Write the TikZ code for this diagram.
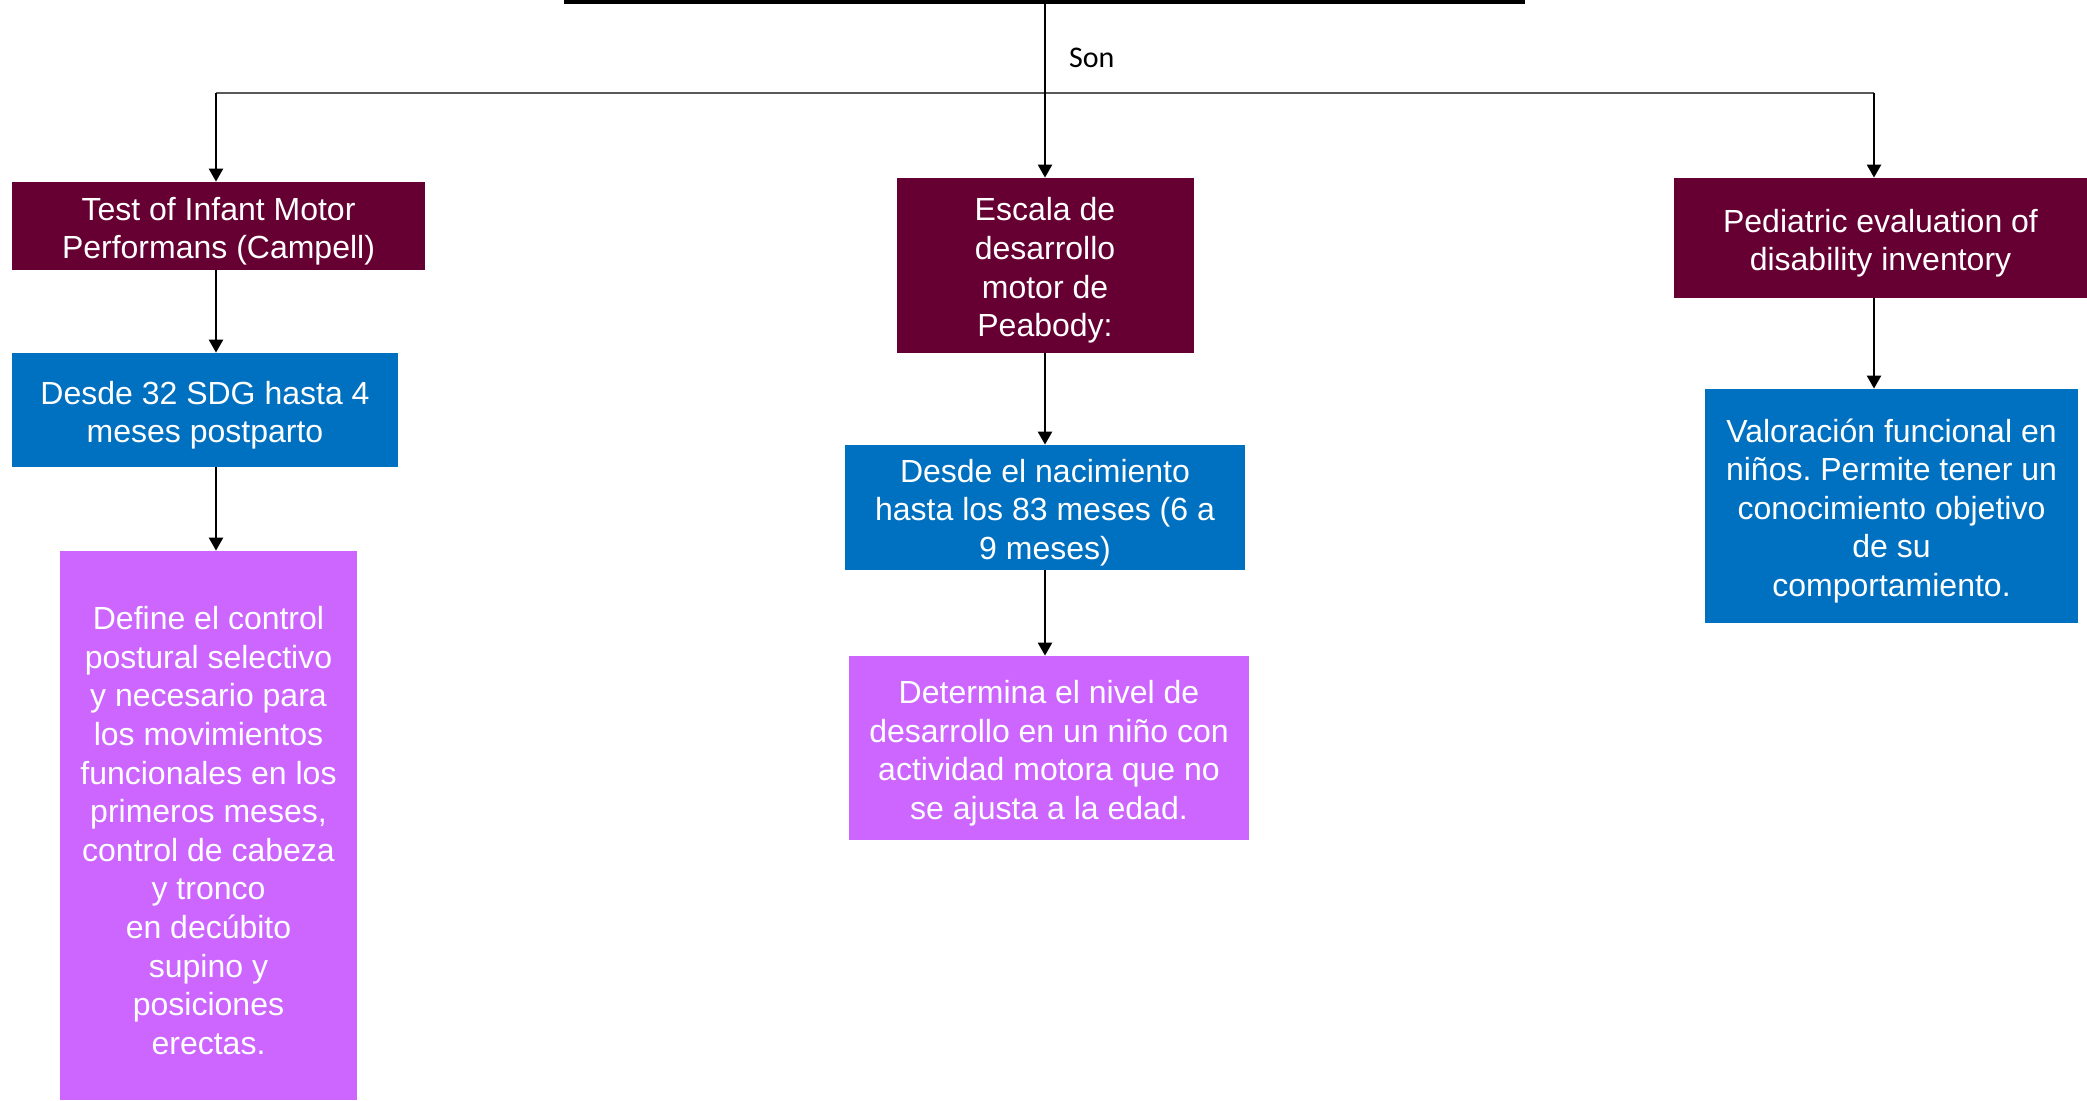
\documentclass[tikz,border=0pt]{standalone}
\usepackage{fontspec}
\setmainfont{Liberation Sans}
\newfontfamily\sonfont{Carlito}
\usetikzlibrary{arrows.meta,positioning,calc}
\definecolor{wine}{HTML}{660033}
\definecolor{azul}{HTML}{0070C0}
\definecolor{lila}{HTML}{CC66FF}
\definecolor{linegray}{HTML}{595959}
\frenchspacing

\begin{document}
\begin{tikzpicture}[x=0.5pt, y=-0.5pt, >={Triangle[width=7pt,length=6.5pt]},
  box/.style={inner sep=0pt, align=flush center, text=white, font=\fontsize{16}{19.3}\selectfont,
    execute at begin node={\rule{0pt}{16.7pt}}},
  size/.style 2 args={minimum width=#1, text width=#1, minimum height=#2},
  title/.style={box, fill=wine},
  info/.style={box, fill=azul},
  note/.style={box, fill=lila},
  link/.style={->, line width=1.2pt}]
  \useasboundingbox (0,0) rectangle (2087,1100);
  % bar of the box above (cut off)
  \coordinate (barL) at (564,0); \coordinate (barR) at (1525,0);
  \draw[line width=4pt] (barL) -- (barR);
  % branch points
  \coordinate (cL) at (216,93); \coordinate (cM) at (1045,93); \coordinate (cR) at (1874,93);
  \node[anchor=west, font=\sonfont\fontsize{15}{18}\selectfont] (son) at (1062,58) {Son};
  % left column
  \node[title, size={206.5pt}{44pt}] (campbell) at (218.5,226)
    {Test of Infant Motor\\Performans (Campell)};
  \node[info, size={193pt}{57pt}] (campbellAge) at (205,410)
    {Desde 32 SDG hasta 4\\meses postparto};
  \node[note, size={148.5pt}{274.5pt}] (campbellUse) at (208.5,825.5)
    {Define el control\\postural selectivo\\y necesario para\\los movimientos\\funcionales en los\\primeros meses,\\control de cabeza\\y tronco\\en decúbito\\supino y\\posiciones\\erectas.};
  % middle column
  \node[title, size={148.5pt}{87.5pt}] (peabody) at (1045,265.5)
    {Escala de\\desarrollo\\motor de\\Peabody:};
  \node[info, size={200pt}{62.5pt}] (peabodyAge) at (1045,507.5)
    {Desde el nacimiento\\hasta los 83 meses (6 a\\9 meses)};
  \node[note, size={200pt}{92pt}] (peabodyUse) at (1049,748)
    {Determina el nivel de\\desarrollo en un niño con\\actividad motora que no\\se ajusta a la edad.};
  % right column
  \node[title, size={206.5pt}{60pt}] (pedi) at (1880.5,238)
    {Pediatric evaluation of\\disability inventory};
  \node[info, size={186.5pt}{117pt}] (pediUse) at (1891.5,506)
    {Valoración funcional en\\niños. Permite tener un\\conocimiento objetivo\\de su\\comportamiento.};
  % connectors
  \draw[linegray, line width=0.9pt] (cL) -- (cR);
  \draw[link] (barL -| cM) -- (peabody.north);
  \draw[link] (cL) -- (cL |- campbell.north);
  \draw[link] (cR) -- (cR |- pedi.north);
  \draw[link] (campbell.south -| cL) -- (cL |- campbellAge.north);
  \draw[link] (campbellAge.south -| cL) -- (cL |- campbellUse.north);
  \draw[link] (peabody.south) -- (peabodyAge.north);
  \draw[link] (peabodyAge.south) -- (peabodyUse.north -| peabodyAge.south);
  \draw[link] (pedi.south -| cR) -- (cR |- pediUse.north);
\end{tikzpicture}
\end{document}
